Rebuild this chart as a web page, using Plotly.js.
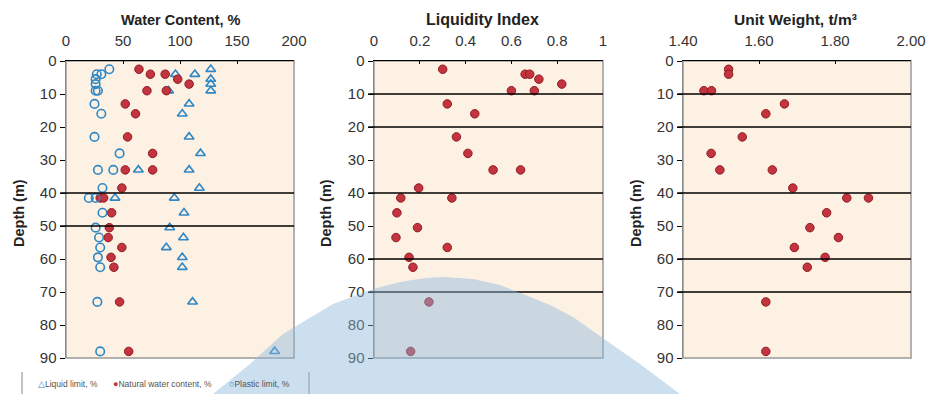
<!DOCTYPE html>
<html>
<head>
<meta charset="utf-8">
<script src="https://cdn.plot.ly/plotly-3.0.1.min.js"></script>
<style>html,body{margin:0;padding:0;background:#fff;}#chart{width:930px;height:394px;}</style>
</head>
<body>
<div id="chart"></div>
<script>
// ---------- DATA ----------
const panelTitles = ["Water Content, %", "Liquidity Index", "Unit Weight, t/m³"];
const depthTitle = "Depth (m)";
const legendNames = ["Liquid limit, %", "Natural water content, %", "Plastic limit, %"];

const wcDepth = [2.5,4,4,5.5,7,9,9,13,16,23,28,33,33,38.5,41.5,41.5,46,50.5,53.5,56.5,59.5,62.5,73,88];
const liquidLimit = [127,96,113,127,127,90,127,108,102,108,118,63.5,108,117,43,95,103.5,91,103,88,102,102,111,183];
const naturalWC = [64,74,87,98,108,71,88,52,61,54,76,52,76,49,30,33,40,38,37,49,39.5,42,47,55];
const plasticLimit = [38,31,27,26,26,26,28,25,31,25,47,28,41.5,32,20,26,32,26,29,30,28,30,27.5,30];

const liDepth = [2.5,4,4,5.5,7,9,9,13,16,23,28,33,33,38.5,41.5,41.5,46,50.5,53.5,56.5,59.5,62.5,73,88];
const liquidityIndex = [0.30,0.66,0.68,0.72,0.82,0.60,0.70,0.32,0.44,0.36,0.41,0.52,0.64,0.195,0.117,0.34,0.10,0.19,0.096,0.32,0.153,0.17,0.24,0.16];

const uwDepth = [2.5,4,9,9,13,16,23,28,33,33,38.5,41.5,41.5,46,50.5,53.5,56.5,59.5,62.5,73,88];
const unitWeight = [1.52,1.52,1.455,1.475,1.667,1.618,1.556,1.474,1.497,1.635,1.689,1.831,1.888,1.778,1.734,1.809,1.693,1.774,1.727,1.618,1.618];

const wcTicks = [0,50,100,150,200];
const liTicks = [0,0.2,0.4,0.6,0.8,1];
const uwTicks = [1.4,1.6,1.8,2.0];
const depthTicks = [0,10,20,30,40,50,60,70,80,90];
const wcLayers = [40,50];
const liLayers = [10,20,40,60,70];
const uwLayers = [10,20,40,60,70];

// ---------- STYLE ----------
const W = 930, H = 394;
const PX = x => x / W;
const PY = y => 1 - y / H;
const FONT = "Liberation Sans, Arial, sans-serif";
const RED = "#C4343E", RED_LINE = "#8E1B24", BLUE = "#2F87C4";
const BG = "#FDF1E4";

const redMarker = {symbol:"circle", size:8.5, color:RED, line:{color:RED_LINE, width:1}};

const traces = [
  {type:"scatter", mode:"markers", name:legendNames[0], x:liquidLimit, y:wcDepth, xaxis:"x", yaxis:"y",
   marker:{symbol:"triangle-up-open", size:8.5, color:BLUE, line:{color:BLUE, width:1.6}}},
  {type:"scatter", mode:"markers", name:legendNames[1], x:naturalWC, y:wcDepth, xaxis:"x", yaxis:"y",
   marker:redMarker},
  {type:"scatter", mode:"markers", name:legendNames[2], x:plasticLimit, y:wcDepth, xaxis:"x", yaxis:"y",
   marker:{symbol:"circle-open", size:8.5, color:BLUE, line:{color:BLUE, width:1.6}}},
  {type:"scatter", mode:"markers", name:"Liquidity Index", x:liquidityIndex, y:liDepth, xaxis:"x2", yaxis:"y2",
   marker:redMarker, showlegend:false},
  {type:"scatter", mode:"markers", name:"Unit Weight", x:unitWeight, y:uwDepth, xaxis:"x3", yaxis:"y3",
   marker:redMarker, showlegend:false}
];

const yDom = [PY(358), PY(61)];
const xDoms = [[PX(66), PX(294)], [PX(374), PX(603)], [PX(683), PX(911)]];

function xAxis(dom, range, ticks, anchor, fmt) {
  return {domain:dom, range:range, side:"top", anchor:anchor, tickvals:ticks, tickformat:fmt,
    showline:true, linecolor:"#000", linewidth:1.5, ticks:"inside", ticklen:3, tickcolor:"#000",
    showgrid:false, zeroline:false, ticklabelstandoff:8,
    tickfont:{family:FONT, size:15, color:"#333"}, fixedrange:true};
}
function yAxis(anchor) {
  return {domain:yDom, range:[90,0], anchor:anchor, tickvals:depthTicks,
    showline:true, linecolor:"#888", linewidth:1.5, ticks:"outside", ticklen:5, tickcolor:"#000",
    showgrid:false, zeroline:false, tickfont:{family:FONT, size:15, color:"#333"}, fixedrange:true};
}

const shapes = [];
const axisPairs = [["x","y",wcLayers],["x2","y2",liLayers],["x3","y3",uwLayers]];
axisPairs.forEach(([xa, ya, layers]) => {
  shapes.push({type:"rect", xref:xa+" domain", yref:ya+" domain", x0:0, x1:1, y0:0, y1:1,
    line:{color:"#999", width:1.5}, layer:"below"});
  layers.forEach(d => shapes.push({type:"line", xref:xa+" domain", yref:ya, x0:-0.025, x1:1, y0:d, y1:d,
    line:{color:"#000", width:1.5}, layer:"above"}));
});
// legend frame (left / right rules)
shapes.push({type:"line", xref:"paper", yref:"paper", x0:PX(22), x1:PX(22), y0:PY(372), y1:PY(396), line:{color:"#888", width:1}});
shapes.push({type:"line", xref:"paper", yref:"paper", x0:PX(309), x1:PX(309), y0:PY(372), y1:PY(396), line:{color:"#888", width:1}});

// decorative watermark hump
const hump = [[196,404],[213,394],[250,364],[283,334],[333,304],[373,289],[400,282],[425,278],[445,277],
  [473,279],[500,285],[523,294],[550,305],[573,317],[607,341],[640,364],[680,394],[694,404]];
const path = "M " + hump.map(p => PX(p[0]).toFixed(5) + "," + PY(p[1]).toFixed(5)).join(" L ") + " Z";
shapes.push({type:"path", xref:"paper", yref:"paper", path:path, fillcolor:"rgba(140,185,220,0.45)",
  line:{width:0}, layer:"above"});

const annotations = [];
const titleX = [181, 482, 795];
const titleSize = [14.5, 16, 15.5];
panelTitles.forEach((t, i) => annotations.push({text:"<b>"+t+"</b>", xref:"paper", yref:"paper",
  x:PX(titleX[i]), y:PY(19.5), xanchor:"center", yanchor:"middle", showarrow:false,
  font:{family:FONT, size:titleSize[i], color:"#222"}}));
[19, 326, 636].forEach(xc => annotations.push({text:"<b>"+depthTitle+"</b>", xref:"paper", yref:"paper",
  x:PX(xc), y:PY(213), xanchor:"center", yanchor:"middle", textangle:-90, showarrow:false,
  font:{family:FONT, size:14.5, color:"#222"}}));
// legend entries
const legSyms = ["△", "●", "○"];
const legCols = [BLUE, RED, BLUE];
const legX = [36, 111, 227];
legendNames.forEach((n, i) => annotations.push({
  text:"<span style='color:"+legCols[i]+";font-size:9px'>"+legSyms[i]+"</span>"+n, xref:"paper", yref:"paper",
  x:PX(legX[i]), y:PY(384), xanchor:"left", yanchor:"middle", showarrow:false,
  font:{family:FONT, size:8.5, color:"#555"}}));

const layout = {
  width:W, height:H, margin:{l:0, r:0, t:0, b:0, autoexpand:false},
  paper_bgcolor:"#fff", plot_bgcolor:BG, showlegend:false,
  xaxis:xAxis(xDoms[0], [0,200], wcTicks, "y"),
  xaxis2:xAxis(xDoms[1], [0,1], liTicks, "y2"),
  xaxis3:xAxis(xDoms[2], [1.4,2.0], uwTicks, "y3", ".2f"),
  yaxis:yAxis("x"), yaxis2:yAxis("x2"), yaxis3:yAxis("x3"),
  shapes:shapes, annotations:annotations
};

Plotly.newPlot("chart", traces, layout, {displayModeBar:false, staticPlot:true});
</script>
</body>
</html>
